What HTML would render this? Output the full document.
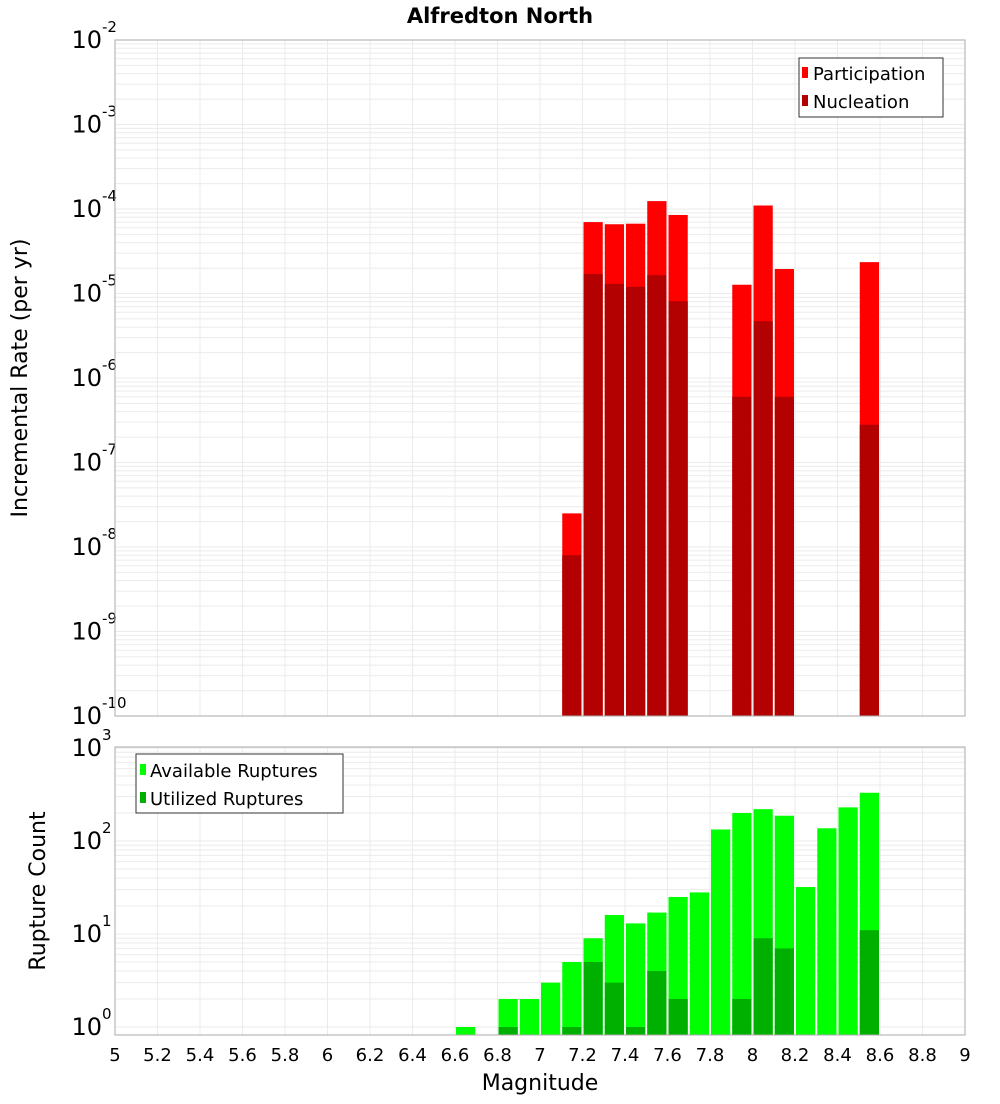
<!DOCTYPE html>
<html><head><meta charset="utf-8"><style>
body{margin:0;background:#fff;font-family:"DejaVu Sans","Liberation Sans",sans-serif}
</style></head><body>
<svg id="c" width="1000" height="1100" xmlns="http://www.w3.org/2000/svg" font-family="DejaVu Sans, Liberation Sans, sans-serif">
<text x="500" y="23" text-anchor="middle" font-weight="bold" font-size="21">Alfredton North</text>
<g id="topPanel"></g>
<g id="botPanel"></g>
<text transform="translate(27,378) rotate(-90)" text-anchor="middle" font-size="22">Incremental Rate (per yr)</text>
<text transform="translate(45,891) rotate(-90)" text-anchor="middle" font-size="22">Rupture Count</text>
<text x="540" y="1090" text-anchor="middle" font-size="22">Magnitude</text>
<g>
<rect x="799" y="58" width="144" height="59" fill="#fff" stroke="#333"/>
<rect x="802" y="67" width="6" height="11" fill="#ff0000"/>
<text x="813" y="80" font-size="18">Participation</text>
<rect x="802" y="95" width="6" height="11" fill="#b30000"/>
<text x="813" y="108" font-size="18">Nucleation</text>
</g>
<g>
<rect x="136" y="754" width="207" height="59" fill="#fff" stroke="#333"/>
<rect x="140" y="764" width="6" height="11" fill="#00ff00"/>
<text x="150" y="777" font-size="18">Available Ruptures</text>
<rect x="140" y="792" width="6" height="11" fill="#00b000"/>
<text x="150" y="805" font-size="18">Utilized Ruptures</text>
</g>
</svg>
<script>
const rateMags=[7.1,7.2,7.3,7.4,7.5,7.6,7.9,8.0,8.1,8.5];
const participation=[2.5e-8,7e-5,6.6e-5,6.7e-5,1.24e-4,8.5e-5,1.27e-5,1.1e-4,1.95e-5,2.35e-5];
const nucleation=[8e-9,1.7e-5,1.3e-5,1.2e-5,1.65e-5,8.1e-6,6e-7,4.7e-6,6e-7,2.8e-7];
const countMags=[6.6,6.8,6.9,7.0,7.1,7.2,7.3,7.4,7.5,7.6,7.7,7.8,7.9,8.0,8.1,8.2,8.3,8.4,8.5];
const available=[1,2,2,3,5,9,16,13,17,25,28,133,200,220,187,32,137,230,330];
const utilized=[0,1,0,0,1,5,3,1,4,2,0,0,2,9,7,0,0,0,11];
const xTicks=[5,5.2,5.4,5.6,5.8,6,6.2,6.4,6.6,6.8,7,7.2,7.4,7.6,7.8,8,8.2,8.4,8.6,8.8,9];
const rateDecades=[-10,-9,-8,-7,-6,-5,-4,-3,-2];
const countDecades=[0,1,2,3];
const NS="http://www.w3.org/2000/svg";
const X0=115,X1=965;
const xs=m=>X0+(m-5)/4*(X1-X0);
const yTop=v=>716-(Math.log10(v)+10)*84.5;
const yBot=v=>1027-Math.log10(v)*93;
function el(p,t,a){const e=document.createElementNS(NS,t);for(const k in a)e.setAttribute(k,a[k]);p.appendChild(e);return e;}
function panel(g,y0,y1,dec,yf,name){
  el(g,'rect',{x:X0,y:y0,width:X1-X0,height:y1-y0,fill:'#fff'});
  for(let i=0;i<dec.length;i++){
    for(let k=1;k<10;k++){
      const v=Math.pow(10,dec[i])*k;const yy=yf(v);
      if(yy<y0-0.5||yy>y1+0.5)continue;
      const l=el(g,'line',{x1:X0,x2:X1,y1:yy,y2:yy,stroke:'#ebebeb','stroke-width':1});
      
      
    }
  }
  for(const t of xTicks){
    const l=el(g,'line',{x1:xs(t),x2:xs(t),y1:y0,y2:y1,stroke:'#ebebeb','stroke-width':1});
    
    
  }
  for(const d of dec){
    const yy=yf(Math.pow(10,d));
    const t=el(g,'text',{x:102,y:yy+8,'text-anchor':'end','font-size':24});
    
    
    t.textContent='10';
    const s=el(g,'text',{x:102,y:yy-8,'font-size':15});
    
    
    s.textContent=String(d);
  }
}
const gTop=document.getElementById('topPanel'),gBot=document.getElementById('botPanel');
panel(gTop,40,716,rateDecades,yTop,'rate');
panel(gBot,747,1035,countDecades,yBot,'count');
const bw=xs(5.1)-xs(5);
function bar(g,m,v,yf,base,col,name){
  if(!(v>0))return;
  const yy=Math.max(yf(v),0);
  const r=el(g,'rect',{x:xs(m)+1,y:yy,width:bw-2,height:base-yy,fill:col});
  
  
}
rateMags.forEach((m,i)=>{bar(gTop,m,participation[i],yTop,716,'#ff0000','participation-bar');bar(gTop,m,nucleation[i],yTop,716,'#b30000','nucleation-bar');});
countMags.forEach((m,i)=>{bar(gBot,m,available[i],yBot,1035,'#00ff00','available-bar');bar(gBot,m,utilized[i],yBot,1035,'#00b000','utilized-bar');});
el(gTop,'rect',{x:X0,y:40,width:X1-X0,height:676,fill:'none',stroke:'#aaa'});
el(gBot,'rect',{x:X0,y:747,width:X1-X0,height:288,fill:'none',stroke:'#aaa'});
for(const t of xTicks){
  const tx=el(gBot,'text',{x:xs(t),y:1061,'text-anchor':'middle','font-size':18});
  
  
  tx.textContent=String(t);
}
</script>
</body></html>
